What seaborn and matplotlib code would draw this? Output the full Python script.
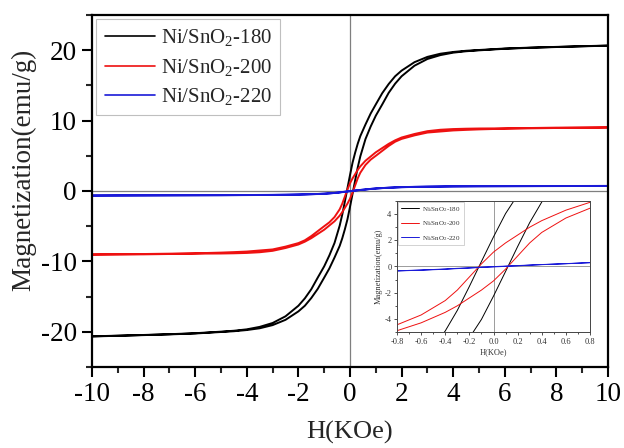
import numpy as np
import pandas as pd
import matplotlib
matplotlib.use('Agg')
import matplotlib.pyplot as plt
from matplotlib.ticker import MultipleLocator, FormatStrFormatter
import seaborn as sns

# ---------------- data ----------------
H = [-10, -9, -8, -7, -6, -5, -4.5, -4, -3.5, -3, -2.5, -2, -1.75, -1.5, -1.25,
     -1, -0.8, -0.6, -0.4, -0.3, -0.2, -0.1, 0, 0.1, 0.2, 0.3, 0.4, 0.6,
     0.8, 1, 1.25, 1.5, 1.75, 2, 2.5, 3, 3.5, 4, 4.5, 5, 6, 7, 8, 9, 10]

# descending branch (field swept +10 -> -10), values listed at H
m180_down = [-20.64, -20.55, -20.45, -20.34, -20.2, -19.98, -19.85, -19.65, -19.3, -18.75,
             -17.8, -16.3, -15.25, -13.95, -12.3, -10.7, -9.15, -7.38, -4.92, -3.35,
             -1.52, 0.38, 2.26, 4.04, 5.45, 6.72, 7.8, 9.45, 11.0, 12.3,
             13.9, 15.2, 16.3, 17.1, 18.3, 19.05, 19.5, 19.75, 19.92, 20.03,
             20.24, 20.37, 20.47, 20.57, 20.66]
# ascending branch (field swept -10 -> +10)
m180_up = [-20.66, -20.57, -20.47, -20.37, -20.24, -20.03, -19.92, -19.75, -19.5, -19.05,
           -18.3, -17.1, -16.3, -15.2, -13.9, -12.3, -11.0, -9.45, -7.8, -6.72,
           -5.45, -4.04, -2.26, -0.38, 1.52, 3.35, 4.92, 7.38, 9.15, 10.7,
           12.3, 13.95, 15.25, 16.3, 17.8, 18.75, 19.3, 19.65, 19.85, 19.98,
           20.2, 20.34, 20.45, 20.55, 20.64]

m200_down = [-9.0, -8.98, -8.95, -8.9, -8.85, -8.75, -8.68, -8.6, -8.45, -8.3,
             -7.9, -7.4, -7.0, -6.4, -5.7, -5.0, -4.45, -3.7, -2.6, -1.8,
             -0.8, 0.2, 1.1, 1.8, 2.4, 3.0, 3.5, 4.3, 4.9, 5.5,
             6.1, 6.7, 7.2, 7.6, 8.1, 8.5, 8.7, 8.8, 8.85, 8.88,
             8.9, 8.95, 9.0, 9.02, 9.05]
m200_up = [-9.05, -9.02, -9.0, -8.95, -8.9, -8.88, -8.85, -8.8, -8.7, -8.5,
           -8.1, -7.6, -7.2, -6.7, -6.1, -5.5, -4.9, -4.3, -3.5, -3.0,
           -2.4, -1.8, -1.1, -0.2, 0.8, 1.8, 2.6, 3.7, 4.45, 5.0,
           5.7, 6.4, 7.0, 7.4, 7.9, 8.3, 8.45, 8.6, 8.68, 8.75,
           8.85, 8.9, 8.95, 8.98, 9.0]

m220_down = [-0.64, -0.63, -0.62, -0.61, -0.6, -0.59, -0.58, -0.57, -0.56, -0.55,
             -0.53, -0.5, -0.48, -0.45, -0.42, -0.38, -0.33, -0.27, -0.19, -0.14,
             -0.1, -0.05, -0.01, 0.03, 0.07, 0.11, 0.15, 0.22, 0.3, 0.36,
             0.42, 0.47, 0.51, 0.55, 0.59, 0.62, 0.64, 0.66, 0.67, 0.68,
             0.69, 0.7, 0.71, 0.715, 0.72]
m220_up = [-0.65, -0.64, -0.63, -0.62, -0.61, -0.6, -0.59, -0.58, -0.57, -0.56,
           -0.54, -0.51, -0.49, -0.46, -0.43, -0.39, -0.34, -0.28, -0.21, -0.16,
           -0.12, -0.07, -0.03, 0.01, 0.05, 0.1, 0.14, 0.21, 0.29, 0.35,
           0.41, 0.46, 0.5, 0.54, 0.58, 0.61, 0.63, 0.65, 0.66, 0.67,
           0.68, 0.69, 0.7, 0.71, 0.72]

samples = ['Ni/SnO$_\\mathregular{2}$-180', 'Ni/SnO$_\\mathregular{2}$-200',
           'Ni/SnO$_\\mathregular{2}$-220']
colors = ['#000000', '#ee1111', '#1a1ad8']

x_ticks = [-10, -8, -6, -4, -2, 0, 2, 4, 6, 8, 10]
y_ticks = [-20, -10, 0, 10, 20]
inset_x_ticks = [-0.8, -0.6, -0.4, -0.2, 0.0, 0.2, 0.4, 0.6, 0.8]
inset_y_ticks = [-4, -2, 0, 2, 4]

# ---------------- build long table: each loop = down branch then up branch ----------------
rows = []
for name, down, up in zip(samples, [m180_down, m200_down, m220_down],
                          [m180_up, m200_up, m220_up]):
    for h, m in zip(H[::-1], down[::-1]):
        rows.append((name, h, m))
    for h, m in zip(H, up):
        rows.append((name, h, m))
df = pd.DataFrame(rows, columns=['sample', 'H', 'M'])

# ---------------- style ----------------
sns.set_theme(style='ticks')
plt.rcParams['font.family'] = ['Liberation Serif', 'DejaVu Serif']
plt.rcParams['mathtext.fontset'] = 'custom'
plt.rcParams['mathtext.rm'] = 'Liberation Serif'
plt.rcParams['mathtext.it'] = 'Liberation Serif:italic'
plt.rcParams['axes.unicode_minus'] = False

fig = plt.figure(figsize=(6.24, 4.48), dpi=100)
ax = fig.add_axes([92 / 624, 81 / 448, 516 / 624, 352 / 448])

ax.axhline(0, color='#7f7f7f', lw=0.9, zorder=0)
ax.axvline(0, color='#7f7f7f', lw=0.9, zorder=0)
sns.lineplot(data=df, x='H', y='M', hue='sample', hue_order=samples, palette=colors,
             sort=False, estimator=None, lw=1.4, ax=ax, legend=True)

ax.set_xlim(-10, 10)
ax.set_ylim(-25, 25)
ax.set_xticks(x_ticks)
ax.set_yticks(y_ticks)
ax.xaxis.set_minor_locator(MultipleLocator(1))
ax.yaxis.set_minor_locator(MultipleLocator(5))
ax.tick_params(which='major', direction='out', length=7, width=1.5, labelsize=19.5,
               colors='black', pad=4)
ax.tick_params(which='minor', direction='out', length=4, width=1.5)
for s in ax.spines.values():
    s.set_linewidth(1.6)
    s.set_color('black')
ax.set_xlabel('H(KOe)', fontsize=19)
ax.xaxis.set_label_coords(0.5, -0.152)
ax.set_ylabel('Magnetization(emu/g)', fontsize=19.5)
ax.yaxis.set_label_coords(-0.108, 0.56)

handles, labels = ax.get_legend_handles_labels()
leg = ax.legend(handles, labels, loc='upper left', fontsize=15, frameon=True,
                fancybox=False, edgecolor='#b0b0b0', handlelength=2.4,
                labelspacing=0.4, borderaxespad=0.2, handletextpad=0.3,
                borderpad=0.4)
leg.get_frame().set_linewidth(0.8)
for l in leg.get_lines():
    l.set_linewidth(1.2)

# ---------------- inset ----------------
axi = fig.add_axes([397 / 624, 116 / 448, 193 / 624, 131 / 448])
axi.set_facecolor('white')
axi.axhline(0, color='#8c8c8c', lw=0.6, zorder=0)
axi.axvline(0, color='#8c8c8c', lw=0.6, zorder=0)
sns.lineplot(data=df, x='H', y='M', hue='sample', hue_order=samples, palette=colors,
             sort=False, estimator=None, lw=0.7, ax=axi, legend=True)
axi.set_xlim(-0.8, 0.8)
axi.set_ylim(-5, 5)
axi.set_xticks(inset_x_ticks)
axi.set_yticks(inset_y_ticks)
axi.xaxis.set_major_formatter(FormatStrFormatter('%.1f'))
axi.xaxis.set_minor_locator(MultipleLocator(0.1))
axi.yaxis.set_minor_locator(MultipleLocator(1))
axi.tick_params(which='major', direction='out', length=2.5, width=0.6, labelsize=6,
                pad=1.5, colors='#333333')
axi.tick_params(which='minor', direction='out', length=1.5, width=0.6, colors='#333333')
for s in axi.spines.values():
    s.set_linewidth(0.7)
    s.set_color('#444444')
axi.set_xlabel('H(KOe)', fontsize=6, labelpad=2, color='#333333')
axi.set_ylabel('Magnetization(emu/g)', fontsize=6, labelpad=1, color='#333333')
h2, l2 = axi.get_legend_handles_labels()
leg2 = axi.legend(h2, l2, loc='upper left', fontsize=5, frameon=True, fancybox=False,
                  edgecolor='#b0b0b0', handlelength=2.6, labelspacing=0.8,
                  borderaxespad=0.15, handletextpad=0.5, borderpad=0.4)
leg2.get_frame().set_linewidth(0.5)
for t in leg2.get_texts():
    t.set_color('#333333')
for l in leg2.get_lines():
    l.set_linewidth(0.7)

fig.savefig('out.png', dpi=100)
